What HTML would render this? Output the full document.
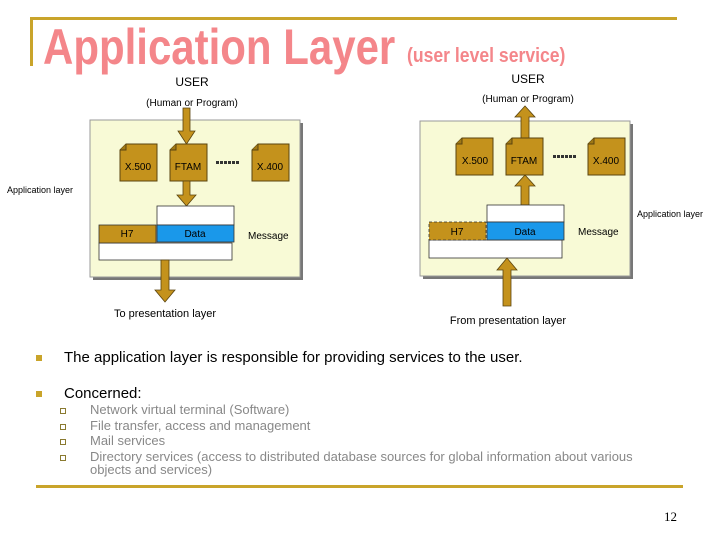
<!DOCTYPE html>
<html><head><meta charset="utf-8"><style>
html,body{margin:0;padding:0;background:#fff;}
svg{display:block;font-family:"Liberation Sans",Arial,sans-serif;}
</style></head><body>
<svg width="720" height="540" viewBox="0 0 720 540" xmlns="http://www.w3.org/2000/svg">
<defs>
<g id="dog">
<path d="M6,0 H37 V37 H0 V6 Z" fill="#c4921c" stroke="#5a4410" stroke-width="1"/>
<path d="M0,6 L6,6 L6,0" fill="#a07814" stroke="#5a4410" stroke-width="1"/>
</g>
</defs>
<rect x="30" y="17" width="647" height="3" fill="#c9a42a"/>
<rect x="30" y="17" width="3" height="49" fill="#c9a42a"/>
<rect x="36" y="485" width="647" height="3" fill="#c9a42a"/>
<text transform="translate(43,64) scale(0.84,1)" font-size="50" font-weight="bold" fill="#f4868a">Application Layer</text>
<text transform="translate(407,62) scale(0.88,1)" font-size="20" font-weight="bold" fill="#f4868a">(user level service)</text>

<!-- LEFT -->
<text x="192" y="86" font-size="12" text-anchor="middle">USER</text>
<text x="192" y="106" font-size="10" text-anchor="middle">(Human or Program)</text>
<rect x="93" y="123" width="210" height="157" fill="#777"/>
<rect x="90" y="120" width="210" height="157" fill="#f8fad6" stroke="#999" stroke-width="1"/>
<path d="M183,108 h7 v23 h5 l-8.5,13 l-8.5,-13 h5 z" fill="#c4921c" stroke="#5a4410" stroke-width="0.8"/>
<use href="#dog" x="120" y="144"/>
<use href="#dog" x="170" y="144"/>
<use href="#dog" x="252" y="144"/>
<text x="138" y="170" font-size="10" text-anchor="middle">X.500</text>
<text x="188" y="170" font-size="10" text-anchor="middle">FTAM</text>
<text x="270" y="170" font-size="10" text-anchor="middle">X.400</text>
<line x1="216" y1="162.5" x2="240" y2="162.5" stroke="#333" stroke-width="3" stroke-dasharray="3,1"/>
<path d="M183,181 h7 v14 h6 l-9.5,11 l-9.5,-11 h6 z" fill="#c4921c" stroke="#5a4410" stroke-width="0.8"/>
<rect x="157" y="206" width="77" height="19" fill="#fff" stroke="#333" stroke-width="0.8"/>
<rect x="99" y="243" width="133" height="17" fill="#fff" stroke="#333" stroke-width="0.8"/>
<rect x="99" y="225" width="57" height="18" fill="#c4921c" stroke="#333" stroke-width="0.8"/>
<rect x="157" y="225" width="77" height="17" fill="#1a98ea" stroke="#333" stroke-width="0.8"/>
<text x="127" y="237" font-size="10" text-anchor="middle">H7</text>
<text x="195" y="237" font-size="10" text-anchor="middle">Data</text>
<text x="248" y="239" font-size="10">Message</text>
<path d="M161,260 h8 v30 h6 l-10,12 l-10,-12 h6 z" fill="#c4921c" stroke="#5a4410" stroke-width="0.8"/>
<text x="165" y="317" font-size="11" text-anchor="middle">To presentation layer</text>
<text x="7" y="193" font-size="9">Application layer</text>

<!-- RIGHT -->
<text x="528" y="83" font-size="12" text-anchor="middle">USER</text>
<text x="528" y="102" font-size="10" text-anchor="middle">(Human or Program)</text>
<rect x="423" y="124" width="210" height="155" fill="#777"/>
<rect x="420" y="121" width="210" height="155" fill="#f8fad6" stroke="#999" stroke-width="1"/>
<path d="M521,138 v-21 h-6 l10,-11 l10,11 h-6 v21 z" fill="#c4921c" stroke="#5a4410" stroke-width="0.8"/>
<use href="#dog" x="456" y="138"/>
<use href="#dog" x="506" y="138"/>
<use href="#dog" x="588" y="138"/>
<text x="475" y="164" font-size="10" text-anchor="middle">X.500</text>
<text x="524" y="164" font-size="10" text-anchor="middle">FTAM</text>
<text x="606" y="164" font-size="10" text-anchor="middle">X.400</text>
<line x1="553" y1="156.5" x2="577" y2="156.5" stroke="#333" stroke-width="3" stroke-dasharray="3,1"/>
<path d="M521,205 v-19 h-6 l10,-11 l10,11 h-6 v19 z" fill="#c4921c" stroke="#5a4410" stroke-width="0.8"/>
<rect x="487" y="205" width="77" height="17" fill="#fff" stroke="#333" stroke-width="0.8"/>
<rect x="429" y="240" width="133" height="18" fill="#fff" stroke="#333" stroke-width="0.8"/>
<rect x="429" y="222" width="57" height="18" fill="#c4921c" stroke="#333" stroke-width="0.8" stroke-dasharray="3,2"/>
<rect x="487" y="222" width="77" height="18" fill="#1a98ea" stroke="#333" stroke-width="0.8"/>
<text x="457" y="235" font-size="10" text-anchor="middle">H7</text>
<text x="525" y="235" font-size="10" text-anchor="middle">Data</text>
<text x="578" y="235" font-size="10">Message</text>
<path d="M503,306 v-36 h-6 l10,-12 l10,12 h-6 v36 z" fill="#c4921c" stroke="#5a4410" stroke-width="0.8"/>
<text x="508" y="324" font-size="11" text-anchor="middle">From presentation layer</text>
<text x="637" y="217" font-size="9">Application layer</text>

<!-- bullets -->
<rect x="36" y="355" width="6" height="6" fill="#c9a42a"/>
<text x="64" y="362" font-size="15">The application layer is responsible for providing services to the user.</text>
<rect x="36" y="391" width="6" height="6" fill="#c9a42a"/>
<text x="64" y="398" font-size="15">Concerned:</text>
<g fill="none" stroke="#8a7a30" stroke-width="1">
<rect x="60.5" y="408.5" width="5" height="5"/>
<rect x="60.5" y="424.5" width="5" height="5"/>
<rect x="60.5" y="439.5" width="5" height="5"/>
<rect x="60.5" y="455.5" width="5" height="5"/>
</g>
<g font-size="13" fill="#888">
<text x="90" y="414">Network virtual terminal (Software)</text>
<text x="90" y="430">File transfer, access and management</text>
<text x="90" y="445">Mail services</text>
<text x="90" y="461">Directory services (access to distributed database sources for global information about various</text>
<text x="90" y="474">objects and services)</text>
</g>
<text x="677" y="521" font-size="13" text-anchor="end" font-family="Liberation Serif,serif">12</text>
</svg>
</body></html>
